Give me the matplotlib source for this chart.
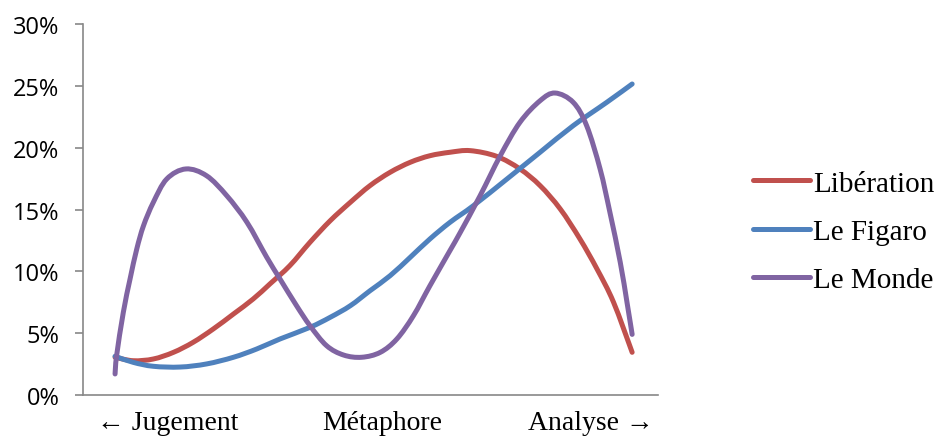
import numpy as np
import matplotlib.pyplot as plt
from matplotlib.path import Path
from matplotlib.patches import PathPatch
from matplotlib.lines import Line2D
from matplotlib.ticker import PercentFormatter

# position along the axis (0 = Jugement side, 10 = Analyse side), values in %
liberation_x = [0, 0.35, 0.74, 1.13, 1.51, 1.90, 2.29, 2.67, 3.0, 3.38, 3.77, 4.16, 4.55,
                4.93, 5.32, 5.71, 6.09, 6.48, 6.87, 7.38, 7.83, 8.22, 8.61, 8.99, 9.32,
                9.64, 10.0]
liberation_y = [3.05, 2.77, 2.91, 3.45, 4.26, 5.34, 6.55, 7.76, 9.0, 10.46, 12.35, 14.09,
                15.58, 16.93, 18.01, 18.82, 19.35, 19.63, 19.76, 19.30, 18.28, 16.93, 15.04,
                12.62, 10.19, 7.50, 3.45]

figaro_x = [0, 0.35, 0.74, 1.26, 1.77, 2.29, 2.74, 3.19, 3.77, 4.16, 4.55, 4.93, 5.32,
            5.71, 6.09, 6.48, 6.93, 7.58, 8.22, 8.86, 9.51, 10.0]
figaro_y = [3.13, 2.64, 2.32, 2.26, 2.51, 3.05, 3.72, 4.53, 5.47, 6.28, 7.22, 8.43, 9.65,
            11.14, 12.62, 13.97, 15.31, 17.47, 19.63, 21.78, 23.67, 25.15]

monde_x = [0, 0.03, 0.16, 0.29, 0.42, 0.55, 0.74, 1.00, 1.37, 1.77, 2.16, 2.55, 2.93,
           3.19, 3.51, 3.77, 4.09, 4.42, 4.77, 5.13, 5.45, 5.77, 6.09, 6.48, 6.67, 7.06,
           7.45, 7.83, 8.22, 8.51, 8.86, 9.12, 9.38, 9.57, 9.77, 9.90, 10.0]
monde_y = [1.70, 3.18, 6.69, 9.38, 11.81, 13.69, 15.58, 17.47, 18.28, 17.73, 16.12, 13.97,
           11.16, 9.38, 7.22, 5.60, 3.99, 3.23, 3.05, 3.45, 4.53, 6.41, 8.84, 11.7, 13.1,
           16.12, 19.35, 22.05, 23.80, 24.42, 23.67, 21.78, 18.28, 14.77, 10.73, 7.50, 4.90]

tick_pos = [1.01, 5.16, 9.21]
tick_labels = ["← Jugement", "Métaphore", "Analyse →"]

serif = ['Liberation Serif', 'DejaVu Serif']


def smooth_path(x, y):
    # Excel-like smoothed line: Catmull-Rom segments drawn as cubic Bezier curves
    p = np.column_stack([x, y])
    ext = np.vstack([p[0], p, p[-1]])
    verts = [p[0]]
    codes = [Path.MOVETO]
    for i in range(len(p) - 1):
        p0, p1, p2, p3 = ext[i], ext[i + 1], ext[i + 2], ext[i + 3]
        verts += [p1 + (p2 - p0) / 6, p2 - (p3 - p1) / 6, p2]
        codes += [Path.CURVE4] * 3
    return Path(verts, codes)


fig = plt.figure(figsize=(9.4, 4.39), dpi=100)
ax = fig.add_axes([0.0883, 0.098, 0.6117, 0.845])

series = [
    (liberation_x, liberation_y, '#C0504D', 'Libération'),
    (figaro_x, figaro_y, '#4F81BD', 'Le Figaro'),
    (monde_x, monde_y, '#8064A2', 'Le Monde'),
]
handles = []
for xs, ys, color, name in series:
    ax.add_patch(PathPatch(smooth_path(xs, ys), facecolor='none', edgecolor=color,
                           lw=3.6, capstyle='round', joinstyle='round'))
    handles.append(Line2D([], [], color=color, lw=3.6, solid_capstyle='round', label=name))

ax.set_xlim(-0.62, 10.5)
ax.set_ylim(0, 30)
ax.set_yticks(range(0, 31, 5))
ax.yaxis.set_major_formatter(PercentFormatter(xmax=100, decimals=0))
ax.set_xticks(tick_pos)
ax.set_xticklabels(tick_labels, family=serif, fontsize=20)

for s in ['top', 'right']:
    ax.spines[s].set_visible(False)
for s in ['left', 'bottom']:
    ax.spines[s].set_color('#888888')
    ax.spines[s].set_linewidth(1.2)
ax.tick_params(axis='y', length=6, color='#888888', width=1.2, pad=11,
               labelsize=17, labelfontfamily='Open Sans')
ax.tick_params(axis='x', length=0, pad=11)

ax.legend(handles=handles, loc='center left', bbox_to_anchor=(1.12, 0.44),
          frameon=False, prop={'family': serif, 'size': 21}, handlelength=1.95,
          handletextpad=0.1, labelspacing=0.75, borderpad=0.4)

fig.savefig('out.png', dpi=100)
